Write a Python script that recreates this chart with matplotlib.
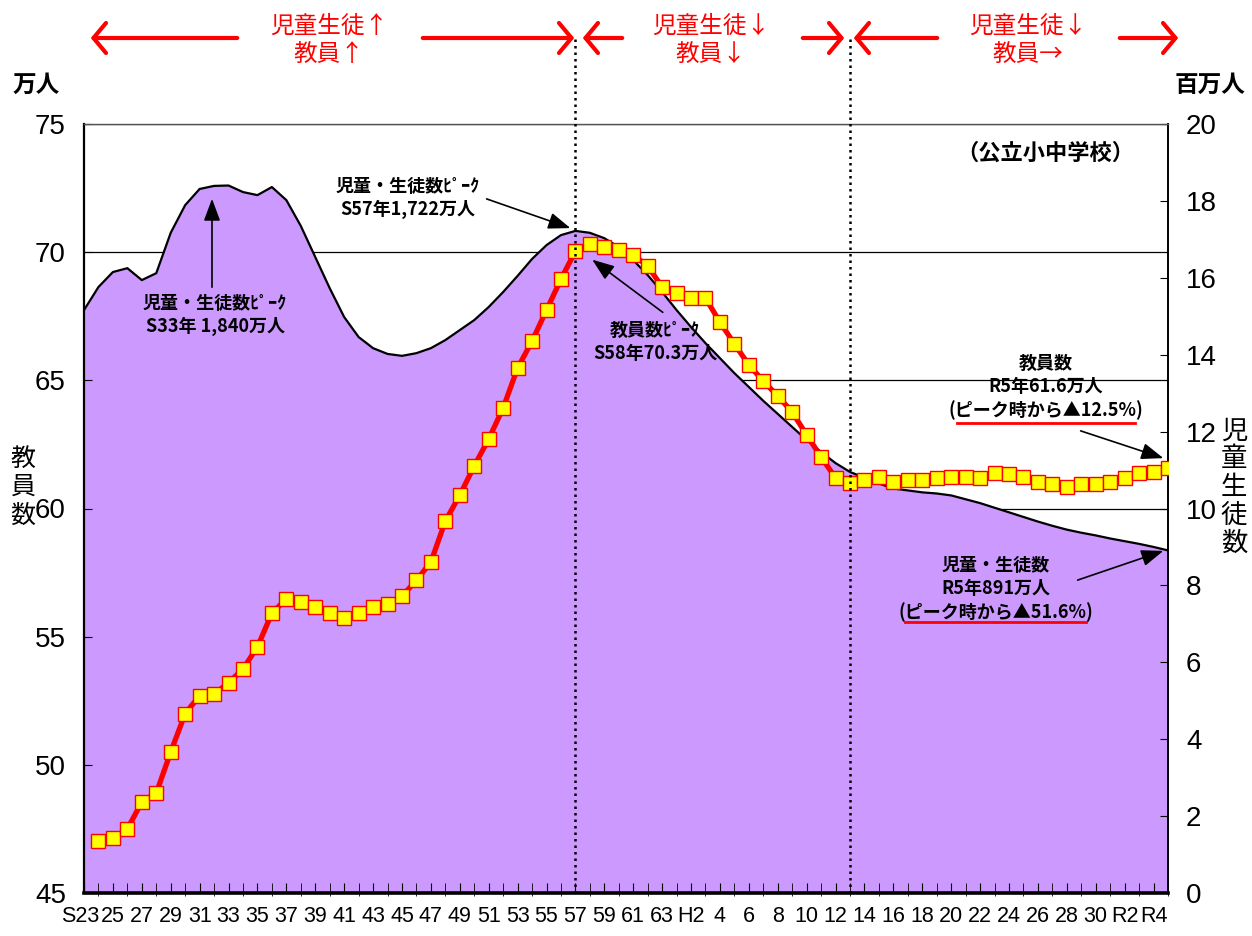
import matplotlib
matplotlib.use("Agg")
import matplotlib.pyplot as plt
import matplotlib.transforms as mtransforms
from matplotlib.lines import Line2D
from matplotlib.patches import FancyArrowPatch

plt.rcParams['font.family'] = ['Noto Sans CJK JP', 'DejaVu Sans']
NARROW = ['Liberation Sans Narrow', 'Liberation Sans', 'DejaVu Sans']

# 児童・生徒数（百万人） S23(1948)〜R5(2023)
student_years = list(range(1948, 2024))
students = [
    15.16, 15.76, 16.15, 16.25, 15.94, 16.12, 17.17, 17.89, 18.31, 18.39,
    18.40, 18.23, 18.15, 18.36, 18.02, 17.35, 16.54, 15.73, 14.98, 14.46,
    14.17, 14.02, 13.97, 14.04, 14.17, 14.38, 14.64, 14.90, 15.24, 15.63,
    16.05, 16.49, 16.85, 17.11, 17.22, 17.17, 17.03, 16.80, 16.46, 16.07,
    15.63, 15.16, 14.72, 14.30, 13.91, 13.52, 13.16, 12.80, 12.46, 12.12,
    11.78, 11.47, 11.18, 10.95, 10.80, 10.65, 10.52, 10.47, 10.42, 10.39,
    10.34, 10.24, 10.14, 10.02, 9.90, 9.78, 9.66, 9.55, 9.45, 9.37,
    9.30, 9.22, 9.15, 9.08, 9.00, 8.91,
]

# 教員数（万人） S24(1949)〜R5(2023)
teacher_years = list(range(1949, 2024))
teachers = [
    47.03, 47.14, 47.50, 48.55, 48.90, 50.50, 52.00, 52.70, 52.76, 53.20,
    53.74, 54.60, 55.92, 56.47, 56.35, 56.15, 55.92, 55.73, 55.92, 56.15,
    56.27, 56.58, 57.20, 57.91, 59.51, 60.52, 61.66, 62.71, 63.92, 65.48,
    66.53, 67.74, 68.95, 70.04, 70.30, 70.22, 70.08, 69.89, 69.46, 68.64,
    68.41, 68.21, 68.21, 67.27, 66.42, 65.60, 64.97, 64.39, 63.76, 62.87,
    62.01, 61.19, 60.99, 61.11, 61.23, 61.03, 61.11, 61.11, 61.19, 61.23,
    61.23, 61.19, 61.38, 61.34, 61.23, 61.03, 60.95, 60.84, 60.95, 60.95,
    61.03, 61.19, 61.38, 61.42, 61.58,
]

tick_years = list(range(1948, 2023, 2))
tick_labels = [
    "S23", "25", "27", "29", "31", "33", "35", "37", "39", "41", "43",
    "45", "47", "49", "51", "53", "55", "57", "59", "61", "63",
    "H2", "4", "6", "8", "10", "12", "14", "16", "18", "20", "22",
    "24", "26", "28", "30", "R2", "R4",
]

# 期間の区切り（児童生徒数ピーク S57、教員数底 H13）
breaks = [1982, 2001]

W, H = 1252, 936


def fx(x):
    return x / W


def fy(y):
    return 1 - y / H


fig = plt.figure(figsize=(12.52, 9.36), dpi=100)
ax = fig.add_axes([fx(84), fy(893), (1168 - 84) / W, (893 - 124) / H])
axr = ax.twinx()
axl = ax.twinx()

# grid layer (teacher scale)
ax.set_xlim(1948, 2023)
ax.set_ylim(45, 75)
ax.set_yticks(range(45, 80, 5))
ax.grid(axis='y', color='black', lw=0.9)
ax.tick_params(left=False, labelleft=False, bottom=False, labelbottom=False)
for s in ax.spines.values():
    s.set_visible(False)

# students area
axr.fill_between(student_years, students, 0, color='#CC99FF', lw=0)
axr.plot(student_years, students, color='black', lw=1.6)
axr.set_ylim(0, 20)
axr.set_yticks(range(0, 21, 2))
axr.tick_params(axis='y', direction='in', length=6, labelsize=20, pad=13)
for lbl in axr.get_yticklabels():
    lbl.set_fontfamily(NARROW)
for s in axr.spines.values():
    s.set_visible(False)

# teachers line
axl.plot(teacher_years, teachers, color='red', lw=3.8, marker='s',
         markersize=10, markerfacecolor='#FFFF00', markeredgecolor='red',
         markeredgewidth=1.0, zorder=3)
axl.set_ylim(45, 75)
axl.set_xlim(1948, 2023)
axl.yaxis.tick_left()
axl.set_yticks(range(45, 80, 5))
axl.tick_params(axis='y', direction='in', length=6, labelsize=20, pad=13)
axl.xaxis.set_visible(True)
axl.set_xticks(tick_years)
axl.set_xticklabels(tick_labels)
axl.set_xticks(student_years, minor=True)
axl.tick_params(axis='x', which='both', direction='in', length=7, labelsize=15.5, pad=9)
for lbl in axl.get_yticklabels() + axl.get_xticklabels():
    lbl.set_fontfamily(NARROW)
# first label sits slightly left, as in the original
first = axl.get_xticklabels()[0]
first.set_transform(first.get_transform() +
                    mtransforms.ScaledTranslation(-4 / 100, 0, fig.dpi_scale_trans))
axl.spines['bottom'].set_linewidth(2.6)
axl.spines['left'].set_linewidth(1.6)
axl.spines['right'].set_linewidth(1.4)
axl.spines['top'].set_linewidth(1.0)
axl.spines['top'].set_color('#555555')

top_frac = (893 - 38) / (893 - 124)
for b in breaks:
    axl.axvline(b, ymin=0, ymax=top_frac, color='black', lw=1.8,
                ls=(0, (1, 1.6)), clip_on=False, zorder=6)

# red period arrows at the top
arrows = [(240, 88), (420, 577), (625, 580), (800, 847), (940, 851), (1117, 1181)]
for x0, x1 in arrows:
    fig.add_artist(FancyArrowPatch((fx(x0), fy(38)), (fx(x1), fy(38)),
                                   transform=fig.transFigure,
                                   arrowstyle='->,head_length=0.5,head_width=0.6',
                                   mutation_scale=18, color='red', lw=3.0))

period_texts = [(329, "児童生徒↑\n教員↑"), (711, "児童生徒↓\n教員↓"), (1028, "児童生徒↓\n教員→")]
for x, t in period_texts:
    fig.text(fx(x), fy(40), t, ha='center', va='center', color='red',
             fontsize=17, linespacing=1.3)

fig.text(fx(36), fy(85), "万人", ha='center', va='center', fontsize=17, fontweight='bold')
fig.text(fx(1210), fy(85), "百万人", ha='center', va='center', fontsize=17, fontweight='bold')
fig.text(fx(23), fy(487), "教\n員\n数", ha='center', va='center', fontsize=18, linespacing=1.12)
fig.text(fx(1234), fy(487), "児\n童\n生\n徒\n数", ha='center', va='center', fontsize=19,
         linespacing=1.05)
fig.text(fx(1045), fy(153), "（公立小中学校）", ha='center', va='center', fontsize=16,
         fontweight='bold')

# annotations
ann = dict(ha='center', va='center', fontsize=13, fontweight='bold', linespacing=1.25)
fig.text(fx(215), fy(315), "児童・生徒数ﾋﾟｰｸ\nS33年 1,840万人", **ann)
fig.text(fx(408), fy(198), "児童・生徒数ﾋﾟｰｸ\nS57年1,722万人", **ann)
fig.text(fx(655), fy(342), "教員数ﾋﾟｰｸ\nS58年70.3万人", **ann)
fig.text(fx(1046), fy(387), "教員数\nR5年61.6万人\n(ピーク時から▲12.5%)", **ann)
fig.text(fx(996), fy(589), "児童・生徒数\nR5年891万人\n(ピーク時から▲51.6%)", **ann)

black_arrows = [((212, 290), (212, 196)), ((484, 198), (573, 229)),
                ((665, 314), (590, 258)), ((1078, 430), (1166, 459)),
                ((1075, 581), (1166, 550))]
for (x0, y0), (x1, y1) in black_arrows:
    fig.add_artist(FancyArrowPatch((fx(x0), fy(y0)), (fx(x1), fy(y1)),
                                   transform=fig.transFigure,
                                   arrowstyle='-|>,head_length=0.75,head_width=0.28',
                                   mutation_scale=18, color='black', lw=1.2))

for x0, x1, y in [(957, 1135, 423), (905, 1086, 622)]:
    fig.add_artist(Line2D([fx(x0), fx(x1)], [fy(y), fy(y)], color='red', lw=2.0,
                          transform=fig.transFigure))

fig.savefig("out.png", dpi=100)
